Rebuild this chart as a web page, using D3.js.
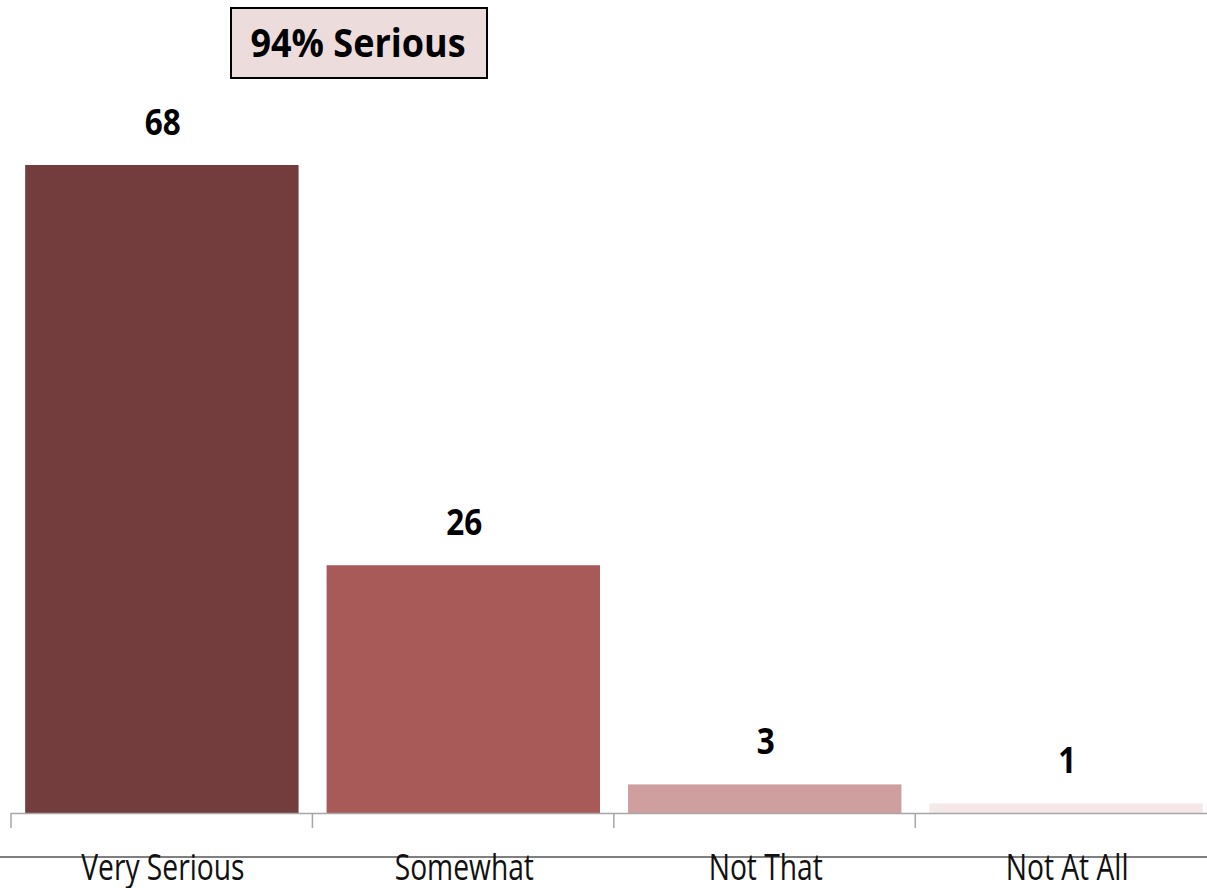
<!DOCTYPE html>
<html>
<head>
<meta charset="utf-8">
<script src="https://d3js.org/d3.v7.min.js"></script>
<style>
  body { margin: 0; background: #fff; }
</style>
</head>
<body>
<div id="chart"></div>
<script>
// data
var categories = ["Very Serious", "Somewhat", "Not That", "Not At All"];
var values = [68, 26, 3, 1];
var barColors = ["#743d3d", "#a85a59", "#cf9fa0", "#f4e8e8"];
var calloutText = "94% Serious";

var W = 1207, H = 888;
var axisY = 813;

var svg = d3.select("#chart").append("svg")
    .attr("width", W)
    .attr("height", H);

// x: band scale, one band per category; the last band runs past the right edge
var x = d3.scaleBand()
    .domain(categories)
    .range([11, 1217])
    .paddingInner(0.093)
    .paddingOuter(0.047);

var y = d3.scaleLinear()
    .domain([0, 68])
    .range([axisY, 165]);

// bars
svg.selectAll("rect.bar")
    .data(values)
  .enter().append("rect")
    .attr("class", "bar")
    .attr("x", function(d, i) { return x(categories[i]); })
    .attr("y", function(d) { return y(d); })
    .attr("width", x.bandwidth())
    .attr("height", function(d) { return y(0) - y(d); })
    .attr("fill", function(d, i) { return barColors[i]; });

// value labels
svg.selectAll("text.val")
    .data(values)
  .enter().append("text")
    .attr("class", "val")
    .attr("x", 0)
    .attr("y", 0)
    .attr("text-anchor", "middle")
    .style("font-family", "'Open Sans', sans-serif")
    .style("font-weight", "bold")
    .style("font-size", "35px")
    .attr("transform", function(d, i) {
        var cx = x(categories[i]) + x.bandwidth() / 2 + 1;
        return "translate(" + cx + "," + (y(d) - 30) + ") scale(0.9,1)";
    })
    .text(function(d) { return d; });

// axis line with ticks at band boundaries
var step = x.step();
var x0 = x.range()[0];
svg.append("line")
    .attr("x1", x0).attr("x2", W)
    .attr("y1", axisY + 0.5).attr("y2", axisY + 0.5)
    .attr("stroke", "#a6a6a6")
    .attr("stroke-width", 1.5);

svg.selectAll("line.tick")
    .data(d3.range(categories.length + 1))
  .enter().append("line")
    .attr("class", "tick")
    .attr("x1", function(i) { return x0 + i * step; })
    .attr("x2", function(i) { return x0 + i * step; })
    .attr("y1", axisY)
    .attr("y2", axisY + 15)
    .attr("stroke", "#a6a6a6")
    .attr("stroke-width", 1.5);

// lower horizontal rule
svg.append("line")
    .attr("x1", 0).attr("x2", W)
    .attr("y1", 857).attr("y2", 857)
    .attr("stroke", "#7f7f7f")
    .attr("stroke-width", 2);

// category labels
svg.selectAll("text.cat")
    .data(categories)
  .enter().append("text")
    .attr("class", "cat")
    .attr("x", 0)
    .attr("y", 0)
    .attr("text-anchor", "middle")
    .style("font-family", "'Open Sans', sans-serif")
    .style("font-size", "34px")
    .attr("fill", "#111")
    .attr("transform", function(d) {
        var cx = x(d) + x.bandwidth() / 2 + 1;
        return "translate(" + cx + ",880) scale(0.83,1.05)";
    })
    .text(function(d) { return d; });

// callout box
var box = svg.append("g");
box.append("rect")
    .attr("x", 231).attr("y", 8)
    .attr("width", 256).attr("height", 70)
    .attr("fill", "#ecdcdc")
    .attr("stroke", "#000")
    .attr("stroke-width", 2);
box.append("text")
    .attr("x", 0).attr("y", 0)
    .attr("text-anchor", "middle")
    .attr("transform", "translate(358,57) scale(0.9,1)")
    .style("font-family", "'Open Sans', sans-serif")
    .style("font-weight", "bold")
    .style("font-size", "40px")
    .text(calloutText);
</script>
</body>
</html>
